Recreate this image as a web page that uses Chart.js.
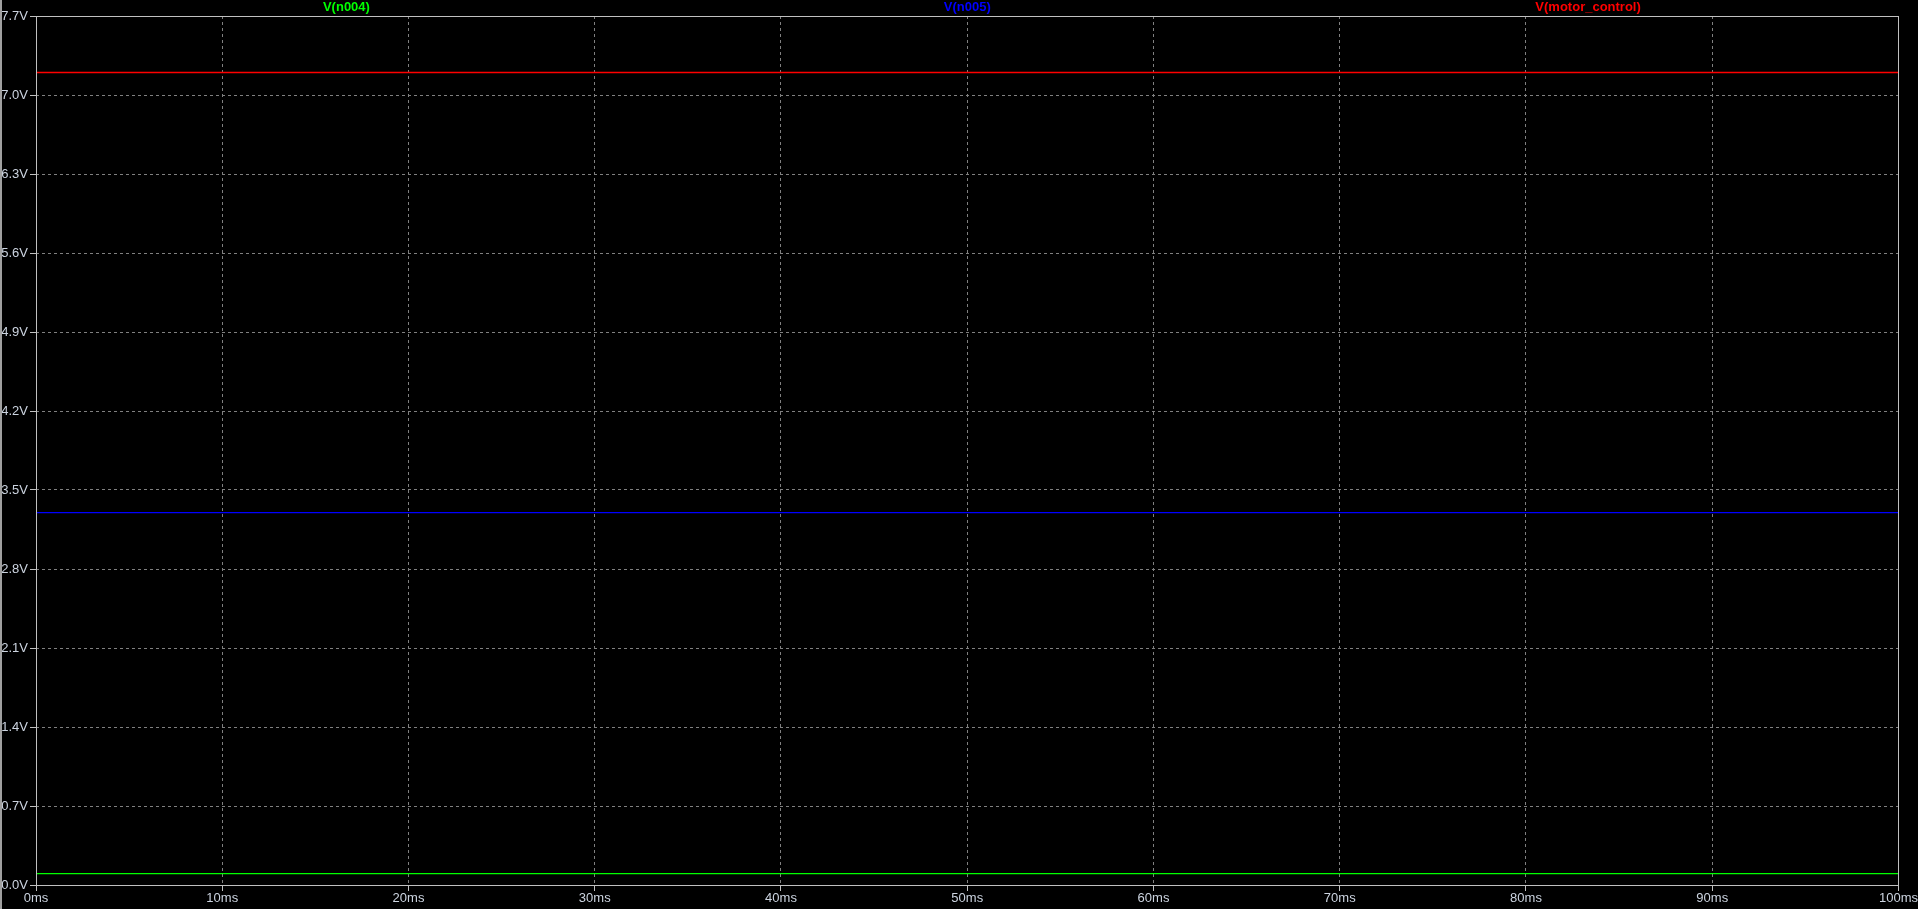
<!DOCTYPE html>
<html>
<head>
<meta charset="utf-8">
<script src="https://cdn.jsdelivr.net/npm/chart.js@4.4.1/dist/chart.umd.min.js"></script>
<style>
  html, body { margin: 0; padding: 0; background: #000; overflow: hidden; }
  #wrap { width: 1916px; height: 909px; border-left: 2px solid #a0a0a0; }
  canvas { display: block; }
</style>
</head>
<body>
<div id="wrap"><canvas id="c" width="1916" height="909"></canvas></div>
<script>
// ---- data ----
const timeMs = [0, 100];
const vN004 = [0.1, 0.1];
const vN005 = [3.3, 3.3];
const vMotorControl = [7.2, 7.2];
const seriesNames = ['V(n004)', 'V(n005)', 'V(motor_control)'];
const seriesColors = ['#00ff00', '#0000ff', '#ff0000'];
const xTicks = [0, 10, 20, 30, 40, 50, 60, 70, 80, 90, 100];
const yTicks = [0.0, 0.7, 1.4, 2.1, 2.8, 3.5, 4.2, 4.9, 5.6, 6.3, 7.0, 7.7];

const toPts = (ys) => timeMs.map((t, i) => ({ x: t, y: ys[i] }));

const frameAndTitles = {
  id: 'frameAndTitles',
  afterDatasetsDraw(chart) {
    const { ctx, chartArea: a } = chart;
    ctx.save();
    ctx.strokeStyle = '#c0c0c0';
    ctx.lineWidth = 1;
    ctx.strokeRect(Math.round(a.left) + 0.5, Math.round(a.top) + 0.5,
                   Math.round(a.right - a.left) , Math.round(a.bottom - a.top));
    ctx.font = 'bold 13px "Liberation Sans", Arial, sans-serif';
    ctx.textAlign = 'center';
    ctx.textBaseline = 'middle';
    const w = a.right - a.left;
    chart.data.datasets.forEach((ds, i) => {
      ctx.fillStyle = ds.borderColor;
      ctx.fillText(ds.label, a.left + w * (2 * i + 1) / 6, 7);
    });
    ctx.restore();
  }
};

const tickFont = { family: '"Liberation Sans", Arial, sans-serif', size: 13 };
const tickColor = '#ccd4e0';

new Chart(document.getElementById('c'), {
  type: 'line',
  data: {
    datasets: [
      { label: seriesNames[0], data: toPts(vN004), borderColor: seriesColors[0], borderWidth: 1.2 },
      { label: seriesNames[1], data: toPts(vN005), borderColor: seriesColors[1], borderWidth: 1.2 },
      { label: seriesNames[2], data: toPts(vMotorControl), borderColor: seriesColors[2], borderWidth: 1.5 }
    ]
  },
  options: {
    responsive: false,
    animation: false,
    parsing: true,
    elements: { point: { radius: 0 }, line: { tension: 0 } },
    layout: { padding: { top: 16, right: 18, left: 0, bottom: 0 } },
    plugins: { legend: { display: false }, tooltip: { enabled: false } },
    scales: {
      x: {
        type: 'linear',
        min: 0, max: 100,
        afterBuildTicks: (s) => { s.ticks = xTicks.map(v => ({ value: v })); },
        afterFit: (s) => { s.height = 24; },
        grid: {
          color: (c) => (c.tick && (c.tick.value === 0 || c.tick.value === 100)) ? 'rgba(0,0,0,0)' : '#808080',
          tickColor: '#c0c0c0',
          tickLength: 6,
          drawTicks: true,
          lineWidth: 1
        },
        border: { display: false, dash: [3, 3] },
        ticks: {
          color: tickColor, font: tickFont, padding: 0, maxRotation: 0, autoSkip: false,
          callback: (v) => v + 'ms'
        }
      },
      y: {
        type: 'linear',
        min: 0, max: 7.7,
        afterBuildTicks: (s) => { s.ticks = yTicks.map(v => ({ value: v })); },
        afterFit: (s) => { s.width = 34; },
        grid: {
          color: (c) => (c.tick && (c.tick.value === 0 || Math.abs(c.tick.value - 7.7) < 1e-9)) ? 'rgba(0,0,0,0)' : '#808080',
          tickColor: '#c0c0c0',
          tickLength: 6,
          drawTicks: true,
          lineWidth: 1
        },
        border: { display: false, dash: [3, 3] },
        ticks: {
          color: tickColor, font: tickFont, padding: 2, autoSkip: false,
          callback: (v) => Number(v).toFixed(1) + 'V'
        }
      }
    }
  },
  plugins: [frameAndTitles]
});
</script>
</body>
</html>
